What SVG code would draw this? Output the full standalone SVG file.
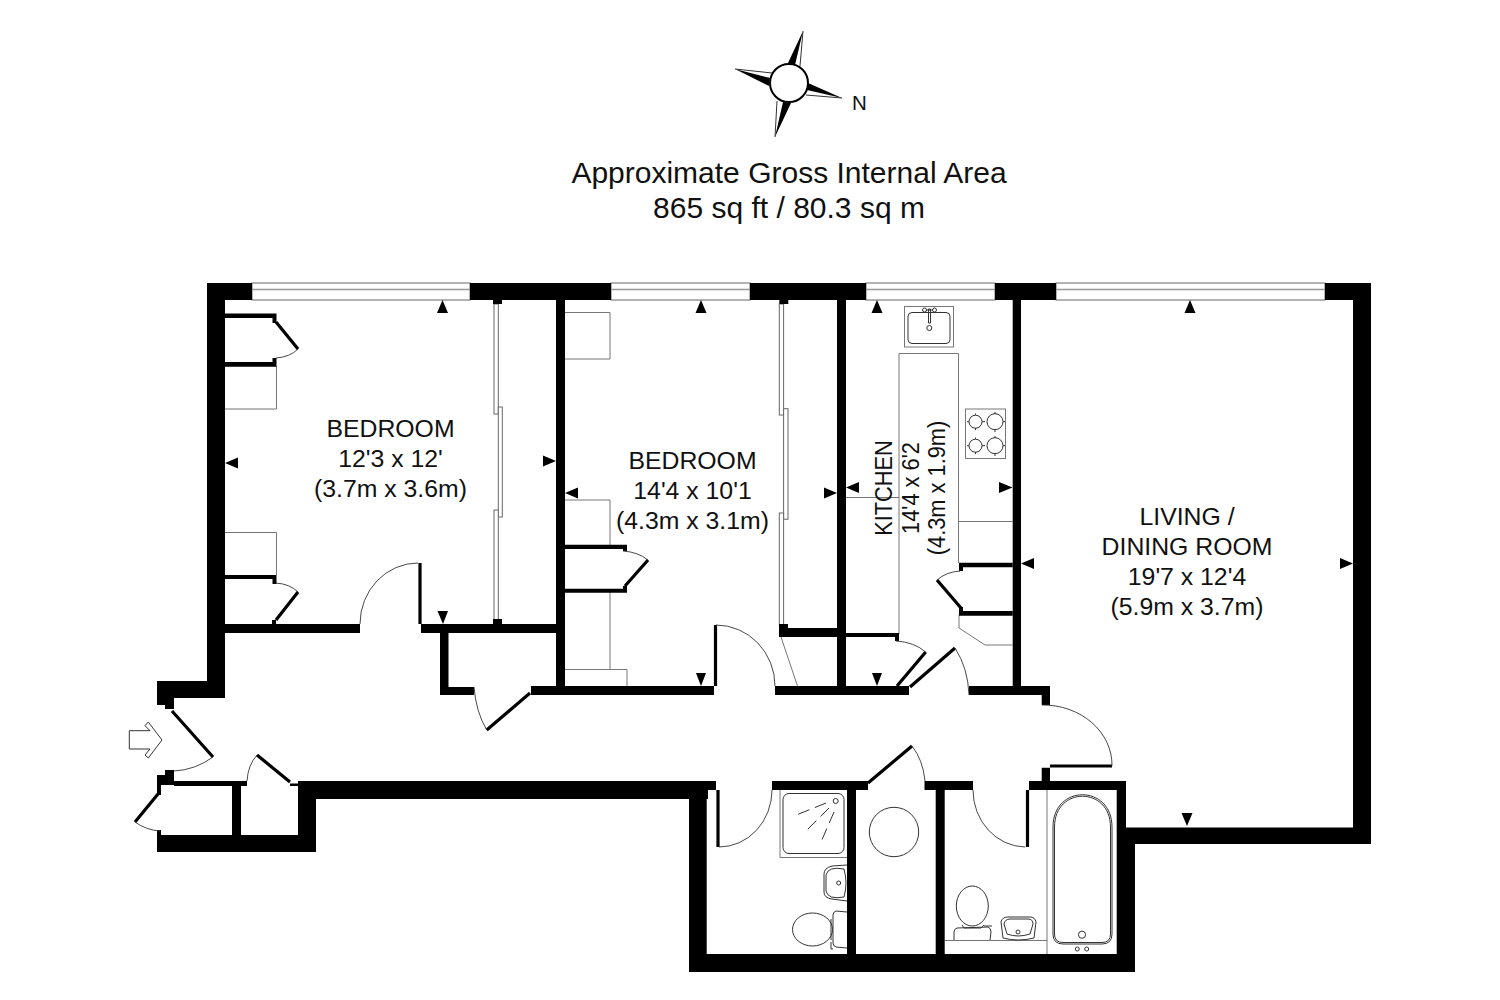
<svg xmlns="http://www.w3.org/2000/svg" width="1500" height="1000" viewBox="0 0 1500 1000">
<style>
text{font-family:"Liberation Sans",Arial,sans-serif;fill:#111;text-anchor:middle}
.t{font-size:24.8px}
.h{font-size:30px}
.w{fill:#000}
.leaf{stroke:#000;stroke-width:3.2;fill:none}
.arc{stroke:#333;stroke-width:.9;fill:none}
.g{stroke:#777;stroke-width:1;fill:none}
.fx{stroke:#333;stroke-width:1;fill:none}
.win{stroke:#666;stroke-width:1;fill:#fff}
.win2{stroke:#999;stroke-width:1.6}
.sl{stroke:#666;stroke-width:1;fill:#fff}
</style>
<rect width="1500" height="1000" fill="#fff"/>

<g id="compass">
<path class="fx" d="M803 31L800 66M842 98L806 95M775 137L777 101M735 69L772 73"/>
<path class="w" d="M803 31L788 63L795 65ZM842 98L808 83L807 90ZM775 137L783 102L791 103ZM735 69L770 78L769 86Z"/>
<circle cx="789" cy="83" r="19" fill="#fff" stroke="#000" stroke-width="2"/>
<text x="859.5" y="110" font-size="20.5px">N</text>
</g>

<g id="title">
<text class="h" x="789" y="183">Approximate Gross Internal Area</text>
<text class="h" x="789" y="218">865 sq ft / 80.3 sq m</text>
</g>

<g id="windows">
<rect class="win" x="252" y="283" width="218" height="17"/><path class="win2" d="M252 289.5H470"/>
<rect class="win" x="611" y="283" width="139" height="17"/><path class="win2" d="M611 289.5H750"/>
<rect class="win" x="866" y="283" width="129" height="17"/><path class="win2" d="M866 289.5H995"/>
<rect class="win" x="1056" y="283" width="269" height="17"/><path class="win2" d="M1056 289.5H1325"/>
</g>

<g id="fixtures">
<path class="g" d="M225 409H276.5V366M225 532.5H276.5V575"/>
<path class="g" d="M565 312.5H610V359H565M565 500H610V545M610 592V669M565 669.5H627V686"/>
<path class="g" d="M781 637L797.5 686"/>
<path class="g" d="M846 497.5H899M899 634V353.5H958.5V563M958.5 521.5H1012.5M959 615V628L985 645H1012.5"/>
<rect class="g" x="904.5" y="306.5" width="49" height="40.5"/>
<rect class="fx" x="908" y="312.5" width="42" height="31" rx="4"/>
<circle class="fx" cx="924.5" cy="310" r="2"/><circle class="fx" cx="934.5" cy="310" r="2"/>
<path class="fx" d="M928.5 309H930.5V323H928.5ZM926 310H933"/>
<circle class="fx" cx="929.3" cy="328" r="2.5"/>
<rect class="g" x="965.5" y="409" width="40" height="49.5"/>
<g class="fx"><circle cx="975.5" cy="421.7" r="6.5"/><circle cx="995" cy="421.7" r="8"/><circle cx="975.5" cy="445.7" r="6.5"/><circle cx="995" cy="445.7" r="8"/>
<path d="M967 421.7H969M982 421.7H985M975.5 413.5V415M975.5 428V430M1005 421.7H1003M995 412V414M995 430V432M967 445.7H969M982 445.7H985M975.5 437.5V439M975.5 452V454M1005 445.7H1003M995 436V438M995 454V456"/></g>
<path class="g" d="M780 790V857.5H847"/>
<rect class="fx" x="783" y="793.5" width="61" height="60" rx="6"/>
<circle class="fx" cx="835.7" cy="801" r="2.5"/>
<path class="fx" stroke-dasharray="12 6" d="M826 803L794 816M829 808L805 832M834 812L821 842"/>
<path class="fx" d="M847 865L832 866Q824 868 824 874V892Q824 898 832 899L847 901"/>
<path class="fx" d="M844 869Q828 866 826 875V891Q828 900 844 897Q848 883 844 869Z"/>
<circle class="fx" cx="838.7" cy="883" r="2"/>
<ellipse class="fx" cx="812.5" cy="929.5" rx="20" ry="16.5"/>
<path class="fx" d="M847 912L836 911Q833 912 833 915V943Q833 946 836 947L847 948M831 919V940M831 942V949H833"/>
<circle class="fx" cx="894" cy="832" r="24.7"/>
<ellipse class="fx" cx="972.3" cy="906" rx="16" ry="20"/>
<path class="fx" d="M962 925L964 928H981L984 925M954 940V932Q954 929 957 928L988 927Q991 928 991 932L990 940M984 926H992"/>
<path class="g" d="M944.7 940.5H1047"/>
<path class="fx" d="M1001 922Q1002 917 1008 917H1030Q1035 917 1036 922L1034 938Q1018 942 1003 938Z"/>
<path class="fx" d="M1004 924Q1005 919 1010 919H1028Q1033 919 1033 924L1030 934Q1018 938 1007 934Z"/>
<circle class="fx" cx="1018" cy="932" r="2"/>
<path class="g" d="M1047 790V954"/>
<path class="fx" d="M1053 827C1053 784 1112 784 1112 827V934Q1112 944 1102 944H1063Q1053 944 1053 934Z"/>
<path class="fx" d="M1054.5 827C1054.5 786 1110.5 786 1110.5 827V934Q1110.5 942.5 1102 942.5H1063Q1054.5 942.5 1054.5 934Z" stroke-width=".6"/>
<circle class="fx" cx="1082" cy="934.7" r="3.6"/>
<circle class="fx" cx="1077.3" cy="949" r="2"/><circle class="fx" cx="1086.7" cy="949" r="2"/>
<rect class="sl" x="494" y="304" width="4.3" height="110"/>
<rect class="sl" x="498.3" y="407" width="4" height="110"/>
<rect class="sl" x="494" y="510" width="4.3" height="110"/>
<rect class="sl" x="779.3" y="304" width="4.3" height="111"/>
<rect class="sl" x="783.6" y="408.7" width="4.4" height="110.5"/>
<rect class="sl" x="779.3" y="513" width="4.3" height="112"/>
<path class="fx" stroke="#555" fill="#fff" d="M129.3 730.7H150L145 725.7L148.3 722L162 740L148.3 758L145 755L150 749H129.3Z"/>
</g>

<g id="walls">
<path class="w" d="M207 283H252V300H225V681H207ZM470 283H611V300H470ZM750 283H866V300H750ZM995 283H1056V300H995ZM1325 283H1371V844H1135V972H689V799H316V852H157V835H298V781H708V799H706.7V954H1116.7V790H1029V781H1126V827.5H1353V300H1325Z"/>
<path class="w" d="M157 681H225V698H174V709H165V705H157ZM207 600H225V698H207Z"/>
<path class="w" d="M165 770H174V781H247V786H174V785H161V795H157V775H165ZM232 786H241V835H232ZM290 783.5H298V786H290ZM157 830H161V835H157Z"/>
<path class="w" d="M225 624H360V633H225ZM421 624H556V633H448.5V687H474V695H440V633H421ZM531 686H714V695H531ZM775 686H909V695H775ZM969 686H1050V705H1041.7V695H969Z"/>
<path class="w" d="M556 300H565V695H556ZM837 300H846V695H837ZM1012.7 300H1021V695H1012.7Z"/>
<path class="w" d="M779 624H788V628H837V637H779ZM846 633H899V641H895V637H846Z"/>
<path class="w" d="M225 313.5H276.5V323H272.5V318H225ZM225 362H272.5V358H276.5V366.7H225ZM225 575H276.5V584H272.5V579H225ZM272 620H276V624H272Z"/>
<path class="w" d="M565 544.7H627V551H623V549H565ZM565 588.7H623V586H627V592.7H565Z"/>
<path class="w" d="M959 562.7H1012.7V567.3H963V571H959ZM959 607H963V611H1012.7V615.7H959Z"/>
<path class="w" d="M708 781H716V790H708ZM772 781H868V790H772ZM924.5 781H973V790H924.5ZM847 790H856V954H847ZM935.7 790H944.7V954H935.7ZM1041.7 767.7H1050V785H1041.7Z"/>
<path class="w" d="M493 300H502V304H493ZM493 619H502V624H493ZM779.3 300H788.3V304H779.3Z"/>
</g>

<g id="doors">
<path class="leaf" d="M172 711L213 757M158 794L135 822M290 782L257 755M298 349L276 322M298 592L276 620M420 563V624M486.7 730L530 693"/>
<path class="leaf" d="M648 560L625 586M715.5 625V686M937 580L961 608M925.7 652L897 686M910 687L955 648M1050 766H1112M868 783L912 746M718 790V847M1027.5 790V847"/>
<path class="arc" d="M213 757Q195 770 174 771M135 822Q146 830 160 831M257 755Q248 765 247 781M298 349Q290 357 276 358M276 583Q290 584 298 592M418 563A58 61 0 0 0 360 624M474 687Q476 712 486.7 730"/>
<path class="arc" d="M623 551Q638 552 648 560M716 625A59 61 0 0 1 775 686M960 571Q946 572 937 580M896 641Q914 642 925.7 652M955 648Q968 668 969 695M1042 705A69 60 0 0 1 1112 766M719 847A53 57 0 0 0 772 790M912 746Q923 760 925 781M973 790A53 57 0 0 0 1025 847"/>
</g>

<g id="markers" fill="#000">
<path d="M442.5 300L448 313H437ZM443 624L448 611H437.5ZM225 463L238 457.5V468.5ZM556 461L543 455.5V466.5Z"/>
<path d="M701 300L706.5 313H695.5ZM701 686L706 673H696ZM565 493L578 487.5V498.5ZM837 493L824 487.5V498.5Z"/>
<path d="M877 300L882.5 313H871.5ZM877 686L882 673H872ZM846 487.5L859 482V493ZM1012.5 487.5L999 482V493Z"/>
<path d="M1190 300L1195.5 313H1184.5ZM1187 826L1192.5 813H1181.5ZM1021 563.5L1034 558V569ZM1353 563.5L1340 558V569Z"/>
</g>

<g id="labels">
<g id="bedroom-1"><text class="t" x="390.5" y="437">BEDROOM</text><text class="t" x="390.5" y="467">12'3 x 12'</text><text class="t" x="390.5" y="497">(3.7m x 3.6m)</text></g>
<g id="bedroom-2"><text class="t" x="692.5" y="469">BEDROOM</text><text class="t" x="692.5" y="499">14'4 x 10'1</text><text class="t" x="692.5" y="529">(4.3m x 3.1m)</text></g>
<g id="kitchen"><text class="t" transform="translate(892 488) rotate(-90) scale(.88 1)">KITCHEN</text><text class="t" transform="translate(919 488) rotate(-90) scale(.88 1)">14'4 x 6'2</text><text class="t" transform="translate(945 488) rotate(-90) scale(.88 1)">(4.3m x 1.9m)</text></g>
<g id="living"><text class="t" x="1187" y="525">LIVING /</text><text class="t" x="1187" y="555">DINING ROOM</text><text class="t" x="1187" y="585">19'7 x 12'4</text><text class="t" x="1187" y="615">(5.9m x 3.7m)</text></g>
</g>
</svg>
